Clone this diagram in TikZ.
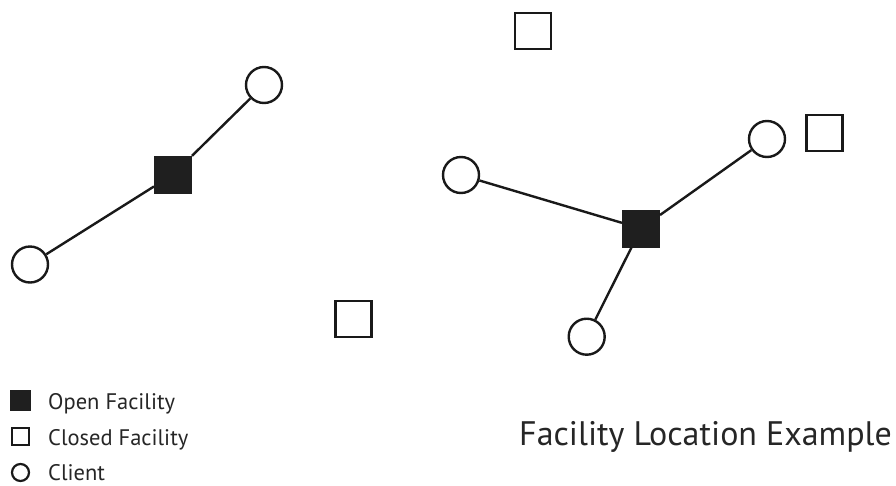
\documentclass[tikz,border=0pt]{standalone}
\usepackage{fontspec}
\setmainfont{PT Sans}
\begin{document}
\begin{tikzpicture}[x=1pt,y=-1pt,
  client/.style={circle,draw=black!90,line width=2.4pt,fill=white,minimum size=36pt,inner sep=0pt},
  openfac/.style={rectangle,fill=black!88,draw=black!88,line width=1pt,minimum size=37pt,inner sep=0pt},
  closedfac/.style={rectangle,draw=black!90,line width=2.4pt,fill=white,minimum size=36pt,inner sep=0pt},
  link/.style={line width=2.4pt,draw=black!90},
  legtext/.style={anchor=base west,font=\fontsize{22.5}{26}\selectfont,text=black!85,inner sep=0pt},
  lclient/.style={circle,draw=black!90,line width=2.2pt,minimum size=17pt,inner sep=0pt},
  lopen/.style={rectangle,fill=black!88,minimum size=21pt,inner sep=0pt},
  lclosed/.style={rectangle,draw=black!90,line width=2.2pt,minimum size=17pt,inner sep=0pt}]
\useasboundingbox (0,0) rectangle (896,485);
% left cluster
\node[openfac] (f1) at (173,174.5) {};
\node[client] (c1) at (264,85) {};
\node[client] (c2) at (30,264.5) {};
\draw[link] (f1) -- (c1);
\draw[link] (f1) -- (c2);
% right cluster
\node[openfac] (f2) at (641,228.5) {};
\node[client] (c3) at (767,139) {};
\node[client] (c4) at (461,175) {};
\node[client] (c5) at (586.7,336.7) {};
\draw[link] (f2) -- (c3);
\draw[link] (f2) -- (c4);
\draw[link] (f2) -- (c5);
% closed facilities
\node[closedfac] (s1) at (533,31) {};
\node[closedfac] (s2) at (824.5,133) {};
\node[closedfac] (s3) at (353.5,319) {};
% legend
\node[lopen] (l1) at (20.5,400) {};
\node[lclosed] (l2) at (20.5,436.5) {};
\node[lclient] (l3) at (20.5,472.5) {};
\node[legtext] (t1) at (48,409) {Open Facility};
\node[legtext] (t2) at (48,445) {Closed Facility};
\node[legtext] (t3) at (48,480.5) {Client};
% title
\node[anchor=base west,font=\fontsize{34}{40}\selectfont,text=black!85,inner sep=0pt] (title) at (519,445) {Facility Location Example};
\end{tikzpicture}
\end{document}
